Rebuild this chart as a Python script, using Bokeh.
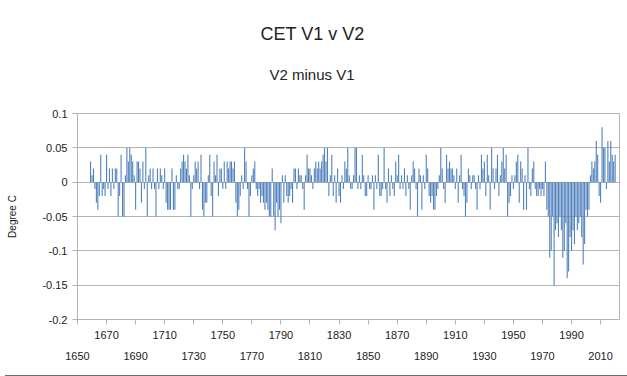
from bokeh.plotting import figure
from bokeh.models import FixedTicker, LinearAxis, Title, Range1d, Div
from bokeh.layouts import column
from bokeh.embed import file_html
from bokeh.resources import INLINE

years = list(range(1659, 2021))
diff = [
    # 1659-1668
    0.03, 0.01, 0.02, -0.01, -0.03, -0.04, -0.02, 0.04, -0.02, -0.01,
    # 1669-1678
    -0.02, 0.04, -0.01, 0.02, -0.02, 0.02, -0.01, 0.02, 0.02, -0.05,
    # 1679-1688
    -0.02, 0.04, -0.05, -0.05, 0.01, 0.05, 0.03, 0.05, 0.04, 0.03,
    # 1689-1698
    0.01, -0.04, 0.03, 0.03, 0.02, -0.03, 0.03, -0.01, 0.05, -0.05,
    # 1699-1708
    0.01, 0.02, -0.01, 0.02, -0.01, -0.05, 0.02, -0.01, 0.02, 0.01,
    # 1709-1718
    -0.01, 0.02, -0.03, -0.04, -0.04, -0.04, 0.02, -0.04, -0.04, 0.01,
    # 1719-1728
    -0.01, -0.01, 0.02, 0.03, 0.04, 0.03, 0.02, 0.04, 0.01, -0.05,
    # 1729-1738
    -0.01, 0.01, 0.03, 0.02, 0.03, -0.01, 0.04, -0.04, -0.05, -0.03,
    # 1739-1748
    -0.03, 0.01, 0.04, -0.02, -0.05, 0.03, 0.01, 0.04, -0.02, 0.02,
    # 1749-1758
    0.02, -0.01, 0.03, -0.01, 0.03, 0.02, 0.03, 0.03, 0.02, 0.03,
    # 1759-1768
    -0.03, -0.05, -0.04, -0.02, 0.01, -0.01, 0.05, 0.03, -0.01, -0.05,
    # 1769-1778
    -0.02, 0.01, 0.02, 0.03, -0.01, -0.02, -0.01, -0.03, -0.02, -0.03,
    # 1779-1788
    -0.04, -0.03, -0.04, -0.05, -0.05, 0.02, -0.05, -0.07, -0.03, -0.05,
    # 1789-1798
    -0.04, -0.06, 0.01, -0.03, 0.01, -0.02, -0.03, -0.02, -0.01, -0.03,
    # 1799-1808
    0.02, 0.02, -0.01, 0.02, 0.01, 0.01, -0.01, -0.04, 0.01, 0.04,
    # 1809-1818
    0.02, 0.02, 0.01, -0.01, 0.02, 0.03, 0.02, 0.03, 0.02, 0.03,
    # 1819-1828
    0.04, 0.05, 0.03, 0.05, -0.02, 0.01, 0.04, -0.02, 0.01, -0.03,
    # 1829-1838
    0.02, -0.02, -0.03, 0.01, -0.01, 0.03, 0.02, 0.05, 0.01, -0.01,
    # 1839-1848
    -0.01, 0.01, 0.05, 0.05, -0.01, 0.01, -0.01, 0.04, 0.01, -0.02,
    # 1849-1858
    -0.02, 0.01, -0.01, -0.01, 0.01, -0.04, 0.01, -0.01, 0.04, -0.02,
    # 1859-1868
    -0.02, -0.01, 0.05, -0.01, -0.03, 0.02, -0.02, 0.01, -0.01, -0.02,
    # 1869-1878
    0.03, 0.01, 0.04, -0.01, 0.01, -0.01, 0.02, -0.02, 0.01, -0.01,
    # 1879-1888
    -0.04, 0.01, 0.03, 0.02, -0.01, -0.05, 0.02, 0.01, -0.04, 0.01,
    # 1889-1898
    -0.01, 0.04, 0.02, -0.02, -0.03, -0.02, -0.04, -0.04, -0.02, -0.01,
    # 1899-1908
    0.01, 0.05, 0.02, -0.01, -0.03, 0.04, 0.02, 0.03, 0.02, 0.02,
    # 1909-1918
    0.01, -0.01, 0.02, -0.03, 0.01, 0.04, -0.01, -0.02, -0.05, -0.03,
    # 1919-1928
    0.02, 0.01, -0.01, 0.01, 0.01, -0.01, -0.04, 0.01, -0.01, 0.04,
    # 1929-1938
    0.02, 0.03, -0.02, 0.04, 0.01, -0.04, 0.05, 0.02, -0.01, 0.02,
    # 1939-1948
    0.04, -0.02, 0.01, 0.03, 0.05, 0.02, 0.04, -0.05, -0.03, -0.02,
    # 1949-1958
    0.01, -0.01, 0.01, 0.03, 0.04, -0.03, 0.03, 0.02, -0.04, 0.01,
    # 1959-1968
    -0.04, 0.05, -0.01, -0.02, 0.02, 0.03, -0.01, -0.02, -0.02, -0.01,
    # 1969-1978
    -0.02, -0.01, -0.02, 0.03, -0.04, -0.05, -0.11, -0.10, -0.05, -0.15,
    # 1979-1988
    -0.07, -0.06, -0.08, -0.05, -0.07, -0.11, -0.10, -0.06, -0.14, -0.13,
    # 1989-1998
    -0.08, -0.10, -0.07, -0.09, -0.05, -0.07, -0.06, -0.05, -0.08, -0.12,
    # 1999-2008
    -0.09, -0.04, -0.05, -0.04, 0.01, 0.03, 0.02, 0.03, 0.06, 0.04,
    # 2009-2020
    -0.02, -0.03, 0.08, 0.05, 0.05, -0.01, 0.06, 0.03, 0.06, 0.04, 0.03, 0.04,
]

y_ticks = [-0.2, -0.15, -0.1, -0.05, 0, 0.05, 0.1]
y_tick_labels = ["-0.2", "-0.15", "-0.1", "-0.05", "0", "0.05", "0.1"]
x_upper = [1670, 1710, 1750, 1790, 1830, 1870, 1910, 1950, 1990]
x_lower = [1650, 1690, 1730, 1770, 1810, 1850, 1890, 1930, 1970, 2010]
title_text = "CET V1 v V2"
subtitle_text = "V2 minus V1"

FONT = "Liberation Sans"
TXT = "#222222"
GRID = "#b3b3b3"

p = figure(width=627, height=370, output_backend="svg", toolbar_location=None,
           title=None, x_range=Range1d(1650, 2023), y_range=Range1d(-0.2, 0.1),
           min_border_left=77, min_border_right=8, min_border_top=113,
           min_border_bottom=51)
p.border_fill_color = "white"
p.outline_line_color = GRID

p.vbar(x=years, top=diff, bottom=0, width=0.75, fill_color="#4f81bd",
       line_color=None)

# y axis
p.yaxis.ticker = FixedTicker(ticks=y_ticks)
p.yaxis.major_label_overrides = {t: l for t, l in zip(y_ticks, y_tick_labels)}
p.yaxis.axis_label = "Degree C"
p.yaxis.axis_label_text_font = FONT
p.yaxis.axis_label_text_font_size = "10px"
p.yaxis.axis_label_text_font_style = "normal"
p.yaxis.axis_label_text_color = TXT
p.yaxis.axis_label_standoff = 21
p.yaxis.major_label_text_font = FONT
p.yaxis.major_label_text_font_size = "11px"
p.yaxis.major_label_text_color = TXT
p.yaxis.major_label_standoff = 5
p.yaxis.major_tick_out = 5
p.yaxis.major_tick_in = 0
p.yaxis.minor_tick_line_color = None
p.yaxis.axis_line_color = GRID
p.yaxis.major_tick_line_color = GRID

# x axis (upper row of labels)
all_x = sorted(x_upper + x_lower)
p.xaxis.ticker = FixedTicker(ticks=all_x)
p.xaxis.major_label_overrides = {t: ("" if t in x_lower else str(t)) for t in all_x}
p.xaxis.major_label_text_font = FONT
p.xaxis.major_label_text_font_size = "11px"
p.xaxis.major_label_text_color = TXT
p.xaxis.major_label_standoff = 6
p.xaxis.major_tick_out = 5
p.xaxis.major_tick_in = 0
p.xaxis.minor_tick_line_color = None
p.xaxis.axis_line_color = GRID
p.xaxis.major_tick_line_color = GRID

# x axis (lower row of labels)
ax2 = LinearAxis(ticker=FixedTicker(ticks=x_lower))
ax2.major_label_overrides = {t: str(t) for t in x_lower}
ax2.axis_line_color = None
ax2.major_tick_line_color = None
ax2.minor_tick_line_color = None
ax2.major_tick_out = 0
ax2.major_tick_in = 0
ax2.major_label_standoff = 10
ax2.major_label_text_font = FONT
ax2.major_label_text_font_size = "11px"
ax2.major_label_text_color = TXT
p.add_layout(ax2, "below")

p.xgrid.visible = False
p.ygrid.ticker = FixedTicker(ticks=y_ticks)
p.ygrid.grid_line_color = GRID

sub = Title(text=subtitle_text, align="left", offset=192,
            text_font=FONT, text_font_size="15px", text_font_style="normal",
            text_color=TXT, standoff=61)
main = Title(text=title_text, align="left", offset=183,
             text_font=FONT, text_font_size="18px", text_font_style="normal",
             text_color=TXT, standoff=-20)
p.add_layout(sub, "above")
p.add_layout(main, "above")

bar = Div(width=627, height=3, styles={"background-color": "#6e6e6e"})
layout = column(p, bar, spacing=0)

open("out.html", "w").write(file_html(layout, INLINE))
